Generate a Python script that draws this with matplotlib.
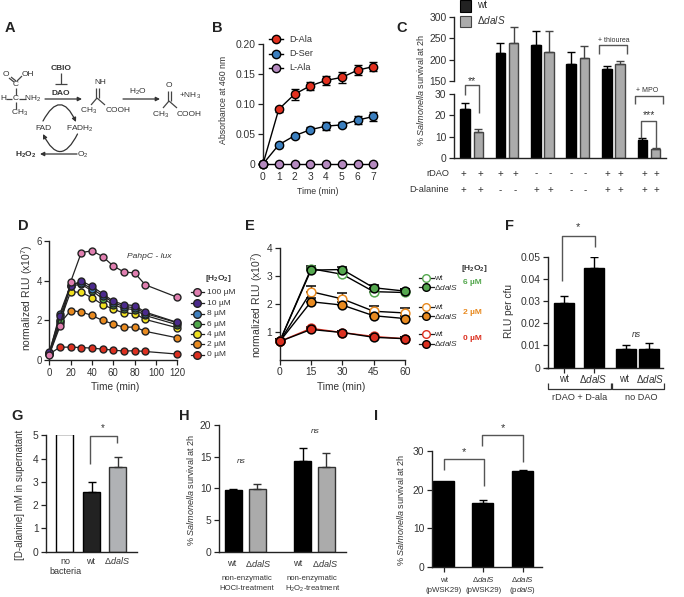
import numpy as np
import matplotlib
matplotlib.use("Agg")
import matplotlib.pyplot as plt
from matplotlib.patches import FancyArrowPatch, Rectangle

plt.rcParams['font.family'] = ['Liberation Sans', 'DejaVu Sans']
plt.rcParams['mathtext.fontset'] = 'custom'
plt.rcParams['mathtext.rm'] = 'Liberation Sans'
plt.rcParams['mathtext.it'] = 'Liberation Sans:italic'
plt.rcParams['mathtext.bf'] = 'Liberation Sans:bold'
plt.rcParams['mathtext.default'] = 'regular'

W, H = 684, 597
DARK = '#222222'
TXT = '#333333'
GREY = '#ababab'

# panel B
b_time = [0, 1, 2, 3, 4, 5, 6, 7]
b_dala = [0, 0.091, 0.116, 0.130, 0.139, 0.144, 0.156, 0.162]
b_dala_err = [0, 0.004, 0.009, 0.007, 0.008, 0.009, 0.008, 0.008]
b_dser = [0, 0.032, 0.047, 0.057, 0.063, 0.065, 0.073, 0.079]
b_dser_err = [0, 0.003, 0.003, 0.004, 0.007, 0.004, 0.006, 0.008]
b_lala = [0, 0, 0, 0, 0, 0, 0, 0]

# panel C
c_values = [23, 12.5, 215, 239, 235, 218, 190, 203, 178, 191, 8.7, 4.3]
c_tops = [26, 13.8, 240, 277, 267, 267, 217, 232, 185, 198, 9.3, 4.6]
c_rdao = ['+', '+', '+', '+', '-', '-', '-', '-', '+', '+', '+', '+']
c_dala = ['+', '+', '-', '-', '+', '+', '-', '-', '+', '+', '+', '+']

# panel D
d_time = [0, 10, 20, 30, 40, 50, 60, 70, 80, 90, 120]
d_0 = [0.3, 0.65, 0.65, 0.63, 0.6, 0.55, 0.5, 0.45, 0.47, 0.43, 0.3]
d_2 = [0.3, 1.85, 2.5, 2.43, 2.25, 2.0, 1.82, 1.65, 1.67, 1.45, 1.12]
d_4 = [0.3, 1.95, 3.45, 3.42, 3.15, 2.8, 2.57, 2.37, 2.35, 2.05, 1.63]
d_6 = [0.33, 2.0, 3.75, 3.82, 3.5, 3.1, 2.8, 2.6, 2.55, 2.25, 1.78]
d_8 = [0.35, 2.35, 3.8, 3.9, 3.6, 3.25, 2.9, 2.7, 2.65, 2.35, 1.88]
d_10 = [0.4, 2.2, 3.75, 4.0, 3.72, 3.35, 2.97, 2.8, 2.75, 2.42, 1.9]
d_100 = [0.27, 1.7, 3.95, 5.43, 5.52, 5.23, 4.75, 4.45, 4.4, 3.8, 3.17]
d_labels = ['100 µM', '10 µM', '8 µM', '6 µM', '4 µM', '2 µM', '0 µM']

# panel E
e_time = [0, 15, 30, 45, 60]
e_wt6 = [0.65, 3.25, 3.05, 2.43, 2.4]
e_wt6_err = [0.1, 0.08, 0.14, 0.12, 0.12]
e_dal6 = [0.65, 3.2, 3.22, 2.57, 2.45]
e_dal6_err = [0.1, 0.08, 0.1, 0.08, 0.08]
e_wt2 = [0.65, 2.43, 2.17, 1.73, 1.67]
e_wt2_err = [0.1, 0.2, 0.22, 0.2, 0.17]
e_dal2 = [0.65, 2.07, 1.95, 1.57, 1.47]
e_dal2_err = [0.1, 0.15, 0.1, 0.1, 0.08]
e_wt0 = [0.65, 1.12, 0.97, 0.83, 0.75]
e_wt0_err = [0.05, 0.05, 0.05, 0.05, 0.05]
e_dal0 = [0.65, 1.08, 0.97, 0.8, 0.75]
e_dal0_err = [0.05, 0.05, 0.05, 0.05, 0.05]

# panel F
f_values = [0.029, 0.045, 0.0085, 0.0083]
f_tops = [0.0322, 0.0498, 0.0102, 0.011]

# panel G
g_values = [5.05, 2.57, 3.65]
g_tops = [5.05, 3.0, 4.07]

# panel H
h_values = [9.7, 9.9, 14.3, 13.3]
h_tops = [9.9, 10.7, 16.3, 15.6]

# panel I
i_values = [22.2, 16.4, 24.7]
i_tops = [22.2, 17.2, 25.2]


def panel_axes(x0, y_top, x1, y_bottom):
    ax = fig.add_axes([x0 / W, 1 - y_bottom / H, (x1 - x0) / W, (y_bottom - y_top) / H])
    ax.patch.set_alpha(0)
    for side in ['top', 'right']:
        ax.spines[side].set_visible(False)
    for side in ['left', 'bottom']:
        ax.spines[side].set_color(DARK)
        ax.spines[side].set_linewidth(1.0)
    ax.tick_params(colors=TXT, color=DARK, labelsize=7.4, length=3.5, width=0.9, pad=2)
    return ax


def draw_bars(ax, centers, width, values, tops, colors, edges):
    for x, v, t, c, e in zip(centers, values, tops, colors, edges):
        ax.bar(x, v, width, color=c, edgecolor=e, linewidth=1.0)
        if t > v:
            ax.errorbar(x, v, yerr=[[0], [t - v]], color=e, capsize=3, lw=1.0, capthick=1.0)


def note(x, y, s, size=7.5, **kw):
    kw.setdefault('color', TXT)
    kw.setdefault('ha', 'center')
    kw.setdefault('va', 'center')
    over.text(x, y, s, fontsize=size, **kw)


def seg(xs, ys, color='#444444', lw=0.9):
    over.plot(xs, ys, color=color, lw=lw, solid_capstyle='butt')


def bracket(x0, x1, top, left_end, right_end, color='#555555'):
    seg([x0, x0, x1, x1], [left_end, top, top, right_end], color=color, lw=1.0)


def arrow(p0, p1, rad=0.0, lw=0.9):
    over.add_patch(FancyArrowPatch(p0, p1, connectionstyle=f'arc3,rad={rad}', arrowstyle='-|>',
                                   mutation_scale=6, lw=lw, color='#333333', shrinkA=0, shrinkB=0))


fig = plt.figure(figsize=(W / 100, H / 100), dpi=100)

# overlay in pixel coordinates for the notes and the scheme
over = fig.add_axes([0, 0, 1, 1], zorder=5)
over.set_xlim(0, W)
over.set_ylim(H, 0)
over.axis('off')

for letter, x, y in [('A', 10, 28), ('B', 217, 28), ('C', 402, 28), ('D', 23, 226), ('E', 250, 226),
                     ('F', 510, 226), ('G', 17, 416), ('H', 184, 416), ('I', 376, 416)]:
    note(x, y, letter, size=10.5, color='#222222', fontweight='bold')

# panel A
note(6, 74, 'O', 6)
note(28, 74, 'OH', 6)
note(15.5, 85, 'C', 6)
note(3, 98.5, 'H', 6)
note(15.5, 98.5, 'C', 6)
note(33, 98.5, 'NH$_2$', 6)
note(20, 113, 'CH$_3$', 6)
seg([15.5, 15.5], [88, 95])
seg([15.5, 15.5], [102, 109])
seg([6, 12], [98.5, 98.5])
seg([19, 26], [98.5, 98.5])
seg([9, 14], [78, 82])
seg([11, 16], [77, 81])
seg([17, 22], [81, 76])
note(61, 68.5, 'CBIO', 6, fontweight='bold')
seg([61, 61], [73, 84])
seg([55, 67], [84, 84])
note(61, 93.5, 'DAO', 6, fontweight='bold')
arrow((45, 99), (82, 99))
note(100, 82.5, 'NH', 6)
seg([96, 96], [88, 98])
seg([98.5, 98.5], [88, 98])
seg([97, 91], [98, 105])
seg([97, 105], [98, 105])
note(89, 111, 'CH$_3$', 6)
note(118, 111, 'COOH', 6)
note(138, 92, 'H$_2$O', 6)
arrow((123, 99), (160, 99))
note(169, 85.5, 'O', 6)
seg([168, 168], [91, 101])
seg([170.5, 170.5], [91, 101])
seg([169, 163], [101, 108])
seg([169, 177], [101, 108])
note(190, 95.5, '+NH$_3$', 6)
note(161, 114.5, 'CH$_3$', 6)
note(189.5, 114.5, 'COOH', 6)
note(43.5, 128.5, 'FAD', 6)
note(80, 128.5, 'FADH$_2$', 6)
arrow((43, 121), (76, 122), rad=-1.0)
arrow((77.5, 134), (43, 134), rad=-1.0)
note(26, 155, 'H$_2$O$_2$', 6, fontweight='bold')
note(83, 155, 'O$_2$', 6)
arrow((77, 154), (40, 154))

# panel B
ax = panel_axes(263, 43.7, 375, 164)
ax.errorbar(b_time, b_dala, yerr=b_dala_err, color='black', mfc='#e2301f', mec='black', marker='o', ms=6,
            lw=1.0, capsize=3, clip_on=False, zorder=3)
ax.errorbar(b_time, b_dser, yerr=b_dser_err, color='black', mfc='#3b7fbf', mec='black', marker='o', ms=6,
            lw=1.0, capsize=3, clip_on=False, zorder=3)
ax.plot(b_time, b_lala, color='black', mfc='#b58ac0', mec='black', marker='o', ms=6, lw=1.0, clip_on=False, zorder=4)
ax.set_xlim(0, 7.1)
ax.set_ylim(0, 0.2)
ax.set_xticks(b_time)
ax.set_yticks([0, 0.05, 0.1, 0.15, 0.2], ['0', '0.05', '0.10', '0.15', '0.20'])
ax.spines['bottom'].set_visible(False)
ax.tick_params(axis='x', length=0, pad=6)
for name, y, c in [('D-Ala', 39.3, '#e2301f'), ('D-Ser', 53.7, '#3b7fbf'), ('L-Ala', 67.7, '#b58ac0')]:
    over.plot([269, 283], [y, y], color='black', lw=1.0)
    over.plot([276], [y], marker='o', ms=6, mfc=c, mec='black', color='black')
    note(289, y, name, 6.6, ha='left')
note(223, 100, 'Absorbance at 460 nm', 6.3, rotation=90)
note(318, 192, 'Time (min)', 6.3)

# panel C with a broken axis
c_in = [0, 30, 150, 300]
c_out = [0, 64.3, 77, 141.6]
ax = panel_axes(454, 16.7, 666, 158.3)
ax.set_yscale('function', functions=(lambda v: np.interp(v, c_in, c_out), lambda v: np.interp(v, c_out, c_in)))
c_centers = [465, 478.3, 500.3, 513.7, 535.8, 549, 571.2, 584.3, 606.8, 620.2, 642.3, 655.7]
c_colors = ['black', GREY] * 6
c_edges = ['black', '#444444'] * 6
draw_bars(ax, c_centers, 9.5, c_values, c_tops, c_colors, c_edges)
ax.set_xlim(454, 666)
ax.set_ylim(0, 300)
ax.set_yticks([0, 10, 20, 30, 150, 200, 250, 300])
ax.set_xticks([])
ax.spines['left'].set_visible(False)
ax.plot([0, 0], [0, 30], color=DARK, lw=1.0, transform=ax.get_yaxis_transform(), clip_on=False)
ax.plot([0, 0], [150, 300], color=DARK, lw=1.0, transform=ax.get_yaxis_transform(), clip_on=False)
for x, r, d in zip([463, 480, 500, 515, 536, 550, 571, 585, 607, 620, 644, 656], c_rdao, c_dala):
    note(x, 173.5, r, 7)
    note(x, 190, d, 7)
note(449, 173.5, 'rDAO', 6.7, ha='right')
note(449, 190, 'D-alanine', 6.7, ha='right')
over.add_patch(Rectangle((459.5, 0), 11, 11.7, fc='#222222', ec='black', lw=0.8))
over.add_patch(Rectangle((459.5, 15.7), 11, 11, fc=GREY, ec='#444444', lw=0.8))
note(477, 5.5, 'wt', 7.2, ha='left')
note(477, 20.5, r'Δ$\mathit{dalS}$', 7.2, ha='left')
note(420, 90, r'% $\mathit{Salmonella}$ survival at 2h', 6.5, rotation=90)
bracket(464.7, 479.3, 85, 95, 113)
note(472, 81, '**', 7.5)
bracket(599.3, 627.3, 45, 53.5, 53.5)
note(613.5, 40, '+ thiourea', 5)
bracket(634.7, 662.7, 96.3, 104.3, 104.3)
note(647.5, 91, '+ MPO', 5)
bracket(641.3, 655.7, 120.7, 138, 148)
note(648.5, 115, '***', 7.5)

# panel D
ax = panel_axes(49.3, 241.3, 177.3, 360)
d_series = [(d_0, '#dc3020'), (d_2, '#e88a20'), (d_4, '#f0e020'), (d_6, '#4fa84a'),
            (d_8, '#3f7fbf'), (d_10, '#4b2a8c'), (d_100, '#e07fb0')]
for vals, c in d_series:
    ax.plot(d_time, vals, color='#222222', mfc=c, mec='#222222', marker='o', ms=5, lw=0.9, clip_on=False, zorder=3)
ax.set_xlim(0, 120)
ax.set_ylim(0, 6)
ax.set_xticks([0, 20, 40, 60, 80, 100, 120])
ax.set_yticks([0, 2, 4, 6])
ax.tick_params(labelsize=6.9)
note(27, 298, 'normalized RLU (x10$^7$)', 7.5, rotation=90)
note(115, 387, 'Time (min)', 7.3)
note(149, 257, 'PahpC - lux', 6.1, fontstyle='italic')
note(218, 278, '[H$_2$O$_2$]', 6, fontweight='bold')
for (vals, c), name, y in zip(d_series[::-1], d_labels, [292.3, 303.3, 313.7, 324, 334, 344.3, 355]):
    over.plot([190.7, 204], [y, y], color='#222222', lw=0.9)
    over.plot([197.3], [y], marker='o', ms=5.5, mfc=c, mec='#222222', color='#222222')
    note(206.7, y, name, 6, ha='left')

# panel E
ax = panel_axes(279.7, 247.7, 405, 359.7)
e_series = [(e_wt6, e_wt6_err, 'white', '#55a84f'), (e_dal6, e_dal6_err, '#55a84f', 'black'),
            (e_wt2, e_wt2_err, 'white', '#e88a20'), (e_dal2, e_dal2_err, '#e88a20', 'black'),
            (e_wt0, e_wt0_err, 'white', '#dc3020'), (e_dal0, e_dal0_err, '#dc3020', 'black')]
for vals, errs, fill, edge in e_series:
    line = '#dc3020' if edge == '#dc3020' else 'black'
    ax.errorbar(e_time, vals, yerr=[[0] * 5, errs], color=line, mfc=fill, mec=edge, mew=1.1, marker='o', ms=6.3,
                lw=1.0, capsize=3.5, ecolor='black', clip_on=False, zorder=3)
ax.set_xlim(0, 60)
ax.set_ylim(0, 4)
ax.set_xticks(e_time)
ax.set_yticks([1, 2, 3, 4])
note(256.7, 305, 'normalized RLU (x10$^7$)', 7.5, rotation=90)
note(341, 387.5, 'Time (min)', 7.3)
note(461, 268.5, '[H$_2$O$_2$]', 6, fontweight='bold', ha='left')
rows = [(278, 287, '#55a84f', '6 µM', 283), (307.3, 316.3, '#e88a20', '2 µM', 312), (334.3, 343.7, '#dc3020', '0 µM', 339)]
for y_wt, y_dal, c, name, y_name in rows:
    over.plot([418.7, 434.3], [y_wt, y_wt], color='#222222', lw=0.9)
    over.plot([426.3], [y_wt], marker='o', ms=5.5, mfc='white', mec=c, color=c)
    over.plot([418.7, 434.3], [y_dal, y_dal], color='#222222', lw=0.9)
    over.plot([426.3], [y_dal], marker='o', ms=5.5, mfc=c, mec='black', color='black')
    note(434.5, y_wt, 'wt', 6.1, ha='left')
    note(434.5, y_dal, r'Δ$\mathit{dalS}$', 6, ha='left')
    note(463, y_name, name, 6, color=c, fontweight='bold', ha='left')

# panel F
ax = panel_axes(548.3, 256.7, 662.7, 367.7)
draw_bars(ax, [564, 593.8, 625.7, 649], 20, f_values, f_tops, ['black'] * 4, ['black'] * 4)
ax.set_xlim(548.3, 662.7)
ax.set_ylim(0, 0.05)
ax.set_yticks([0, 0.01, 0.02, 0.03, 0.04, 0.05], ['0', '0.01', '0.02', '0.03', '0.04', '0.05'])
ax.set_xticks([564, 593.8], ['', ''])
over.plot([545.7, 548.3], [367.7, 367.7], color=DARK, lw=1.0)
note(509, 311, 'RLU per cfu', 7.3, rotation=90)
for x, s in [(564, 'wt'), (593, r'Δ$\mathit{dalS}$'), (624, 'wt'), (650, r'Δ$\mathit{dalS}$')]:
    note(x, 379, s, 7.1)
seg([547.7, 547.7, 610.7, 610.7], [383, 389, 389, 383], color='#333333')
seg([612.3, 612.3, 664, 664], [383, 389, 389, 383], color='#333333')
note(579.7, 397, 'rDAO + D-ala', 6.6)
note(641.7, 397, 'no DAO', 6.6)
bracket(562.3, 595, 236.3, 281, 247.3)
note(577.7, 227, '*', 8)
note(636.7, 334.5, 'ns', 6.2, fontstyle='italic')

# panel G
ax = panel_axes(46.3, 435.3, 137.3, 551.7)
draw_bars(ax, [64.7, 91.7, 117.5], 17.3, g_values, g_tops, ['white', '#222222', '#b0b2b5'], ['black', 'black', '#333333'])
ax.set_xlim(46.3, 137.3)
ax.set_ylim(0, 5)
ax.set_yticks([0, 1, 2, 3, 4, 5])
ax.set_xticks([])
note(20, 495, '[D-alanine] mM in supernatant', 7, rotation=90)
note(65, 561, 'no', 6.5)
note(65, 572, 'bacteria', 6.5)
note(90.3, 561, 'wt', 6.5)
note(117, 561, r'Δ$\mathit{dalS}$', 6.5)
bracket(89.7, 116.7, 436.3, 464.3, 443.3)
note(103, 428, '*', 7)

# panel H
ax = panel_axes(219, 425, 345.7, 551.7)
draw_bars(ax, [233.3, 257.3, 302.7, 326.3], 16.5, h_values, h_tops, ['black', GREY] * 2, ['black', '#333333'] * 2)
ax.set_xlim(219, 345.7)
ax.set_ylim(0, 20)
ax.set_yticks([0, 5, 10, 15, 20])
ax.set_xticks([])
note(190, 490, r'% $\mathit{Salmonella}$ survival at 2h', 6.5, rotation=90)
for x, s in [(231.3, 'wt'), (258.3, r'Δ$\mathit{dalS}$'), (297.7, 'wt'), (325, r'Δ$\mathit{dalS}$')]:
    note(x, 563.7, s, 6.6)
note(246.7, 579, 'non-enzymatic', 5.6)
note(246.7, 589, 'HOCl-treatment', 5.6)
note(312.3, 579, 'non-enzymatic', 5.6)
note(312.3, 589, 'H$_2$O$_2$-treatment', 5.6)
note(241.5, 461.7, 'ns', 6, fontstyle='italic')
note(315, 431.7, 'ns', 6, fontstyle='italic')

# panel I
ax = panel_axes(432, 451, 541.7, 566.7)
draw_bars(ax, [443.8, 482.8, 522.7], 21, i_values, i_tops, ['black'] * 3, ['black'] * 3)
ax.set_xlim(432, 541.7)
ax.set_ylim(0, 30)
ax.set_yticks([0, 10, 20, 30])
ax.set_xticks([443.8, 482.8, 522.7], ['', '', ''])
note(400, 510, r'% $\mathit{Salmonella}$ survival at 2h', 6.5, rotation=90)
note(444, 580, 'wt', 5.7)
note(444, 590, '(pWSK29)', 5.7)
note(483.3, 580, r'Δ$\mathit{dalS}$', 5.7)
note(483.3, 590, '(pWSK29)', 5.7)
note(522.3, 580, r'Δ$\mathit{dalS}$', 5.7)
note(522.3, 590, r'(p$\mathit{dalS}$)', 5.7)
bracket(443.7, 484, 459, 470, 485.7)
note(464.3, 452, '*', 8)
bracket(482.3, 522.7, 434.7, 445.7, 461.7)
note(503.3, 428, '*', 8)

fig.savefig('out.png', dpi=100)
